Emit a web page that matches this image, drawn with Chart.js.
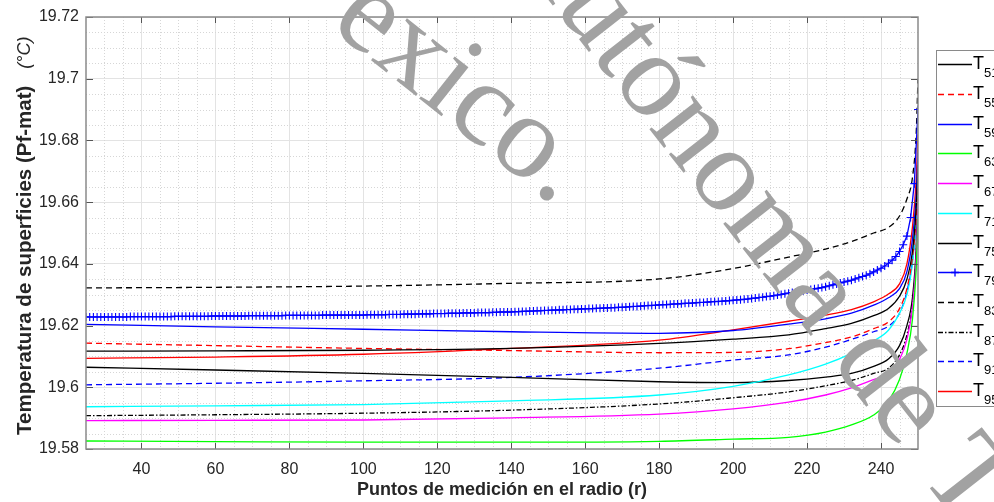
<!DOCTYPE html>
<html>
<head>
<meta charset="utf-8">
<script src="https://cdn.jsdelivr.net/npm/chart.js@4.4.1/dist/chart.umd.min.js"></script>
<style>
  html, body { margin: 0; padding: 0; background: #fff; overflow: hidden; }
  #wrap { width: 994px; height: 502px; }
</style>
</head>
<body>
<div id="wrap"><canvas id="tempChart" width="994" height="502"></canvas></div>
<script>
// radial measurement points used by the smooth curves
const rPoints = [25, 60, 100, 140, 180, 200, 215, 225, 232, 238, 242, 245, 247, 248.5, 249.5, 250];

const T51 = [19.6117, 19.6118, 19.6120, 19.6126, 19.6142, 19.6156, 19.6170, 19.6190, 19.6207, 19.6232, 19.6255, 19.6295, 19.6350, 19.6440, 19.6580, 19.6720];
const T55 = [19.6143, 19.6135, 19.6126, 19.6119, 19.6112, 19.6113, 19.6125, 19.6145, 19.6163, 19.6190, 19.6212, 19.6255, 19.6320, 19.6420, 19.6550, 19.6680];
const T59 = [19.6204, 19.6196, 19.6188, 19.6180, 19.6175, 19.6184, 19.6205, 19.6222, 19.6240, 19.6266, 19.6290, 19.6320, 19.6375, 19.6480, 19.6620, 19.6760];
const T63 = [19.5826, 19.5824, 19.5822, 19.5822, 19.5825, 19.5832, 19.5838, 19.5855, 19.5878, 19.5910, 19.5955, 19.6025, 19.6110, 19.6220, 19.6380, 19.6550];
const T67 = [19.5892, 19.5893, 19.5894, 19.5901, 19.5913, 19.5930, 19.5952, 19.5975, 19.5998, 19.6025, 19.6045, 19.6090, 19.6155, 19.6260, 19.6420, 19.6610];
const T71 = [19.5937, 19.5940, 19.5944, 19.5956, 19.5975, 19.6003, 19.6040, 19.6075, 19.6110, 19.6150, 19.6185, 19.6240, 19.6300, 19.6400, 19.6550, 19.6700];
const T75 = [19.6065, 19.6056, 19.6045, 19.6032, 19.6018, 19.6015, 19.6022, 19.6033, 19.6045, 19.6068, 19.6092, 19.6135, 19.6200, 19.6290, 19.6450, 19.6640];
const T83 = [19.6322, 19.6324, 19.6328, 19.6337, 19.6351, 19.6385, 19.6422, 19.6448, 19.6472, 19.6500, 19.6518, 19.6555, 19.6610, 19.6680, 19.6820, 19.7000];
const T87 = [19.5908, 19.5911, 19.5916, 19.5926, 19.5946, 19.5966, 19.5985, 19.6005, 19.6022, 19.6045, 19.6062, 19.6105, 19.6170, 19.6270, 19.6430, 19.6620];
const T91 = [19.6008, 19.6013, 19.6021, 19.6032, 19.6062, 19.6088, 19.6105, 19.6130, 19.6155, 19.6180, 19.6198, 19.6240, 19.6310, 19.6410, 19.6540, 19.6660];
const T95 = [19.6094, 19.6098, 19.6107, 19.6126, 19.6153, 19.6186, 19.6214, 19.6234, 19.6252, 19.6277, 19.6302, 19.6335, 19.6400, 19.6520, 19.6670, 19.6820];

// T79 is plotted with a marker on every measurement point
const rT79 = [
  25, 26, 27, 28, 29, 30, 31, 32, 33, 34, 35, 36, 37, 38, 39, 40, 41, 42, 43, 44,
  45, 46, 47, 48, 49, 50, 51, 52, 53, 54, 55, 56, 57, 58, 59, 60, 61, 62, 63, 64,
  65, 66, 67, 68, 69, 70, 71, 72, 73, 74, 75, 76, 77, 78, 79, 80, 81, 82, 83, 84,
  85, 86, 87, 88, 89, 90, 91, 92, 93, 94, 95, 96, 97, 98, 99, 100, 101, 102, 103, 104,
  105, 106, 107, 108, 109, 110, 111, 112, 113, 114, 115, 116, 117, 118, 119, 120, 121, 122, 123, 124,
  125, 126, 127, 128, 129, 130, 131, 132, 133, 134, 135, 136, 137, 138, 139, 140, 141, 142, 143, 144,
  145, 146, 147, 148, 149, 150, 151, 152, 153, 154, 155, 156, 157, 158, 159, 160, 161, 162, 163, 164,
  165, 166, 167, 168, 169, 170, 171, 172, 173, 174, 175, 176, 177, 178, 179, 180, 181, 182, 183, 184,
  185, 186, 187, 188, 189, 190, 191, 192, 193, 194, 195, 196, 197, 198, 199, 200, 201, 202, 203, 204,
  205, 206, 207, 208, 209, 210, 211, 212, 213, 214, 215, 216, 217, 218, 219, 220, 221, 222, 223, 224,
  225, 226, 227, 228, 229, 230, 231, 232, 233, 234, 235, 236, 237, 238, 239, 240, 241, 242, 243, 244,
  245, 246, 247, 248, 249, 250
];
const T79 = [
  19.6228, 19.6228, 19.6228, 19.6228, 19.6228, 19.6228, 19.6228, 19.6228, 19.6228, 19.6228,
  19.6228, 19.6228, 19.6229, 19.6229, 19.6229, 19.6229, 19.6229, 19.6229, 19.6229, 19.6229,
  19.6229, 19.6229, 19.6229, 19.6229, 19.6230, 19.6230, 19.6230, 19.6230, 19.6230, 19.6230,
  19.6230, 19.6230, 19.6230, 19.6230, 19.6231, 19.6231, 19.6231, 19.6231, 19.6231, 19.6231,
  19.6231, 19.6231, 19.6231, 19.6231, 19.6232, 19.6232, 19.6232, 19.6232, 19.6232, 19.6232,
  19.6232, 19.6232, 19.6232, 19.6232, 19.6233, 19.6233, 19.6233, 19.6233, 19.6233, 19.6233,
  19.6233, 19.6233, 19.6233, 19.6233, 19.6234, 19.6234, 19.6234, 19.6234, 19.6234, 19.6234,
  19.6234, 19.6234, 19.6234, 19.6234, 19.6234, 19.6234, 19.6235, 19.6235, 19.6235, 19.6235,
  19.6235, 19.6235, 19.6236, 19.6236, 19.6236, 19.6236, 19.6237, 19.6237, 19.6237, 19.6237,
  19.6238, 19.6238, 19.6238, 19.6238, 19.6239, 19.6239, 19.6239, 19.6239, 19.6240, 19.6240,
  19.6240, 19.6240, 19.6241, 19.6241, 19.6241, 19.6241, 19.6242, 19.6242, 19.6242, 19.6242,
  19.6243, 19.6243, 19.6244, 19.6244, 19.6244, 19.6244, 19.6245, 19.6245, 19.6246, 19.6246,
  19.6247, 19.6247, 19.6248, 19.6248, 19.6249, 19.6249, 19.6250, 19.6250, 19.6251, 19.6251,
  19.6252, 19.6252, 19.6253, 19.6253, 19.6254, 19.6254, 19.6255, 19.6255, 19.6256, 19.6256,
  19.6257, 19.6257, 19.6258, 19.6258, 19.6259, 19.6259, 19.6260, 19.6261, 19.6262, 19.6262,
  19.6263, 19.6264, 19.6265, 19.6265, 19.6266, 19.6267, 19.6268, 19.6268, 19.6269, 19.6270,
  19.6270, 19.6271, 19.6272, 19.6272, 19.6273, 19.6274, 19.6275, 19.6275, 19.6276, 19.6277,
  19.6278, 19.6278, 19.6279, 19.6280, 19.6281, 19.6282, 19.6283, 19.6284, 19.6285, 19.6286,
  19.6288, 19.6289, 19.6291, 19.6292, 19.6294, 19.6295, 19.6297, 19.6299, 19.6301, 19.6303,
  19.6305, 19.6307, 19.6309, 19.6311, 19.6313, 19.6315, 19.6317, 19.6319, 19.6321, 19.6323,
  19.6326, 19.6329, 19.6332, 19.6335, 19.6338, 19.6341, 19.6344, 19.6347, 19.6351, 19.6355,
  19.6359, 19.6363, 19.6368, 19.6374, 19.6380, 19.6386, 19.6393, 19.6402, 19.6412, 19.6424,
  19.6440, 19.6462, 19.6490, 19.6550, 19.6660, 19.6900
];

const legendSubs = ['51', '55', '59', '63', '67', '71', '75', '79', '83', '87', '91', '95'];
const xTicks = [40, 60, 80, 100, 120, 140, 160, 180, 200, 220, 240];
const yTicks = [19.58, 19.6, 19.62, 19.64, 19.66, 19.68, 19.7, 19.72];
const yTickLabels = ['19.58', '19.6', '19.62', '19.64', '19.66', '19.68', '19.7', '19.72'];

const FONT = '"Liberation Sans", Arial, Helvetica, sans-serif';
const INK = '#262626';

const pairs = (xs, ys) => ys.map((v, i) => ({ x: xs[i], y: v }));

function curve(label, values, color, dash) {
  return {
    label: label,
    data: pairs(rPoints, values),
    borderColor: color,
    borderDash: dash || [],
    borderWidth: 1.3,
    pointRadius: 0,
    cubicInterpolationMode: 'monotone'
  };
}

const datasets = [
  curve('T51', T51, '#000000'),
  curve('T55', T55, '#ff0000', [6, 4]),
  curve('T59', T59, '#0000ff'),
  curve('T63', T63, '#00ff00'),
  curve('T67', T67, '#ff00ff'),
  curve('T71', T71, '#00ffff'),
  curve('T75', T75, '#000000'),
  {
    label: 'T79',
    data: pairs(rT79, T79),
    borderColor: '#0000ff',
    borderWidth: 1.3,
    pointStyle: 'cross',
    pointRadius: 4,
    pointBorderWidth: 1.1,
    pointBorderColor: '#0000ff',
    tension: 0
  },
  curve('T83', T83, '#000000', [6, 4]),
  curve('T87', T87, '#000000', [5, 2, 1.5, 2]),
  curve('T91', T91, '#0000ff', [6, 4]),
  curve('T95', T95, '#ff0000')
];

// minor dotted grid, inward ticks, axes box, legend, y title and watermark
const decor = {
  id: 'decor',
  beforeDatasetsDraw(chart) {
    const { ctx, chartArea: a, scales: { x, y } } = chart;
    ctx.save();
    ctx.strokeStyle = '#d6d6d6';
    ctx.lineWidth = 1;
    ctx.setLineDash([1, 2]);
    for (let v = 30; v < 250; v += 5) {
      if (v % 20 === 0) continue;
      const px = Math.round(x.getPixelForValue(v)) + 0.5;
      ctx.beginPath(); ctx.moveTo(px, a.top); ctx.lineTo(px, a.bottom); ctx.stroke();
    }
    for (let k = 1; k < 28; k++) {
      if (k % 4 === 0) continue;
      const py = Math.round(y.getPixelForValue(19.58 + k * 0.005)) + 0.5;
      ctx.beginPath(); ctx.moveTo(a.left, py); ctx.lineTo(a.right, py); ctx.stroke();
    }
    ctx.restore();
  },
  afterDatasetsDraw(chart) {
    const { ctx, chartArea: a, scales: { x, y } } = chart;
    ctx.save();
    ctx.strokeStyle = '#555';
    ctx.lineWidth = 1;
    xTicks.forEach(v => {
      const px = Math.round(x.getPixelForValue(v)) + 0.5;
      ctx.beginPath();
      ctx.moveTo(px, a.bottom); ctx.lineTo(px, a.bottom - 6);
      ctx.moveTo(px, a.top); ctx.lineTo(px, a.top + 6);
      ctx.stroke();
    });
    yTicks.forEach(v => {
      const py = Math.round(y.getPixelForValue(v)) + 0.5;
      ctx.beginPath();
      ctx.moveTo(a.left, py); ctx.lineTo(a.left + 7, py);
      ctx.moveTo(a.right, py); ctx.lineTo(a.right - 7, py);
      ctx.stroke();
    });
    ctx.strokeStyle = '#8a8a8a';
    ctx.lineWidth = 1.5;
    ctx.strokeRect(a.left, a.top, a.right - a.left, a.bottom - a.top);
    ctx.restore();
  },
  afterDraw(chart) {
    const { ctx } = chart;

    // y axis title: bold name followed by the italic unit
    ctx.save();
    ctx.translate(25, 435);
    ctx.rotate(-Math.PI / 2);
    ctx.fillStyle = INK;
    ctx.textBaseline = 'middle';
    ctx.textAlign = 'left';
    ctx.font = 'bold 20.5px ' + FONT;
    const title = 'Temperatura de superficies (Pf-mat)';
    ctx.fillText(title, 0, 0);
    const w = ctx.measureText(title).width;
    ctx.font = 'italic 18px ' + FONT;
    ctx.fillText('(°C)', w + 17, 0);
    ctx.restore();

    // legend box
    const boxL = 936, boxT = 50, boxB = 406, rowH = 29.7;
    ctx.save();
    ctx.fillStyle = '#fff';
    ctx.fillRect(boxL, boxT, 120, boxB - boxT);
    ctx.strokeStyle = '#8a8a8a';
    ctx.lineWidth = 1;
    ctx.strokeRect(boxL + 0.5, boxT + 0.5, 120, boxB - boxT);
    chart.data.datasets.forEach((ds, i) => {
      const yy = Math.round(boxT + 14.3 + i * rowH) + 0.5;
      ctx.strokeStyle = ds.borderColor;
      ctx.lineWidth = 1.3;
      ctx.setLineDash(ds.borderDash || []);
      ctx.beginPath(); ctx.moveTo(938, yy); ctx.lineTo(972, yy); ctx.stroke();
      ctx.setLineDash([]);
      if (ds.pointStyle === 'cross') {
        ctx.beginPath();
        ctx.moveTo(955, yy - 4); ctx.lineTo(955, yy + 4);
        ctx.moveTo(951, yy); ctx.lineTo(959, yy);
        ctx.stroke();
      }
      ctx.fillStyle = '#000';
      ctx.textBaseline = 'alphabetic';
      ctx.textAlign = 'left';
      ctx.font = '18px ' + FONT;
      ctx.fillText('T', 973, yy + 4);
      ctx.font = '13px ' + FONT;
      ctx.fillText(legendSubs[i], 984, yy + 12);
    });
    ctx.restore();

    // repository watermark
    ctx.save();
    ctx.fillStyle = '#a2a2a2';
    ctx.font = '120px "Liberation Serif", "Times New Roman", serif';
    ctx.textBaseline = 'alphabetic';
    ctx.textAlign = 'left';
    ctx.save();
    ctx.translate(245, -40);
    ctx.rotate(38.5 * Math.PI / 180);
    ctx.fillText('éxico.', ctx.measureText('M').width, 0);
    ctx.restore();
    ctx.save();
    ctx.translate(500, -62);
    ctx.rotate(52 * Math.PI / 180);
    ctx.fillText('Autónoma de T', 0, 0);
    ctx.restore();
    ctx.restore();
  }
};

new Chart(document.getElementById('tempChart').getContext('2d'), {
  type: 'line',
  data: { datasets: datasets },
  plugins: [decor],
  options: {
    responsive: false,
    animation: false,
    devicePixelRatio: 1,
    layout: { padding: { left: 0, right: 76, top: 17, bottom: 0 } },
    plugins: { legend: { display: false }, tooltip: { enabled: false } },
    scales: {
      x: {
        type: 'linear',
        min: 25,
        max: 250,
        afterBuildTicks: s => { s.ticks = xTicks.map(v => ({ value: v })); },
        afterFit: s => { s.height = 53; },
        ticks: {
          color: INK,
          font: { family: FONT, size: 16 },
          padding: 11,
          maxRotation: 0,
          autoSkip: false,
          callback: v => String(v)
        },
        grid: { color: '#e3e3e3', drawTicks: false },
        border: { display: false },
        title: {
          display: true,
          text: 'Puntos de medición en el radio (r)',
          color: INK,
          font: { family: FONT, size: 18, weight: 'bold' },
          padding: { top: 0, bottom: 1 }
        }
      },
      y: {
        type: 'linear',
        min: 19.58,
        max: 19.72,
        afterBuildTicks: s => { s.ticks = yTicks.map(v => ({ value: v })); },
        afterFit: s => { s.width = 86; },
        ticks: {
          color: INK,
          font: { family: FONT, size: 16 },
          padding: 7,
          autoSkip: false,
          callback: (v, i) => yTickLabels[i]
        },
        grid: { color: '#e3e3e3', drawTicks: false },
        border: { display: false }
      }
    }
  }
});
</script>
</body>
</html>
